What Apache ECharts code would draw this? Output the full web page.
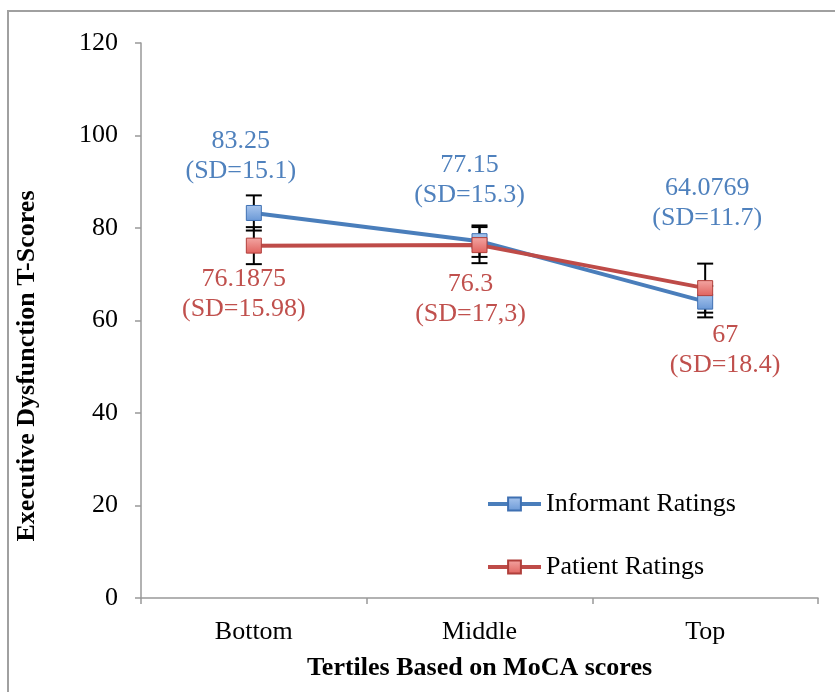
<!DOCTYPE html>
<html>
<head>
<meta charset="utf-8">
<script src="https://cdn.jsdelivr.net/npm/echarts@6/dist/echarts.min.js"></script>
<style>
  html, body { margin: 0; padding: 0; background: #fff; }
  #chart { width: 835px; height: 692px; }
</style>
</head>
<body>
<div id="chart"></div>
<script>
// data
const categories = ['Bottom', 'Middle', 'Top'];
const informantMeans = [83.25, 77.15, 64.0769];
const patientMeans = [76.1875, 76.3, 67];
const informantSD = ['15.1', '15.3', '11.7'];
const patientSD = ['15.98', '17,3', '18.4'];
// error bar half-lengths (estimated from the whiskers)
const informantErr = [3.8, 3.4, 3.4];
const patientErr = [4.0, 3.9, 5.3];

// label placement relative to each marker (styling only)
const informantLabelOffset = [[-13, -57], [-10, -61], [2, -98]];
const patientLabelOffset = [[-10, 49], [-9, 54], [20, 62]];

const FONT = '"Liberation Serif", "Times New Roman", serif';
const BLUE = '#4a7ebb';
const RED = '#be4b48';

const chart = echarts.init(document.getElementById('chart'));

const buildPoints = (means, sds, offsets, textColor) =>
    means.map((v, i) => ({
        value: v,
        label: {
            show: true,
            position: 'inside',
            offset: offsets[i],
            formatter: String(v) + '\n(SD=' + sds[i] + ')',
            color: textColor,
            fontFamily: FONT,
            fontSize: 26,
            lineHeight: 30
        }
    }));

const errorData = (means, errs) => means.map((m, i) => [i, m, errs[i]]);

// whiskers with caps
const renderError = (params, api) => {
    const x = api.value(0);
    const m = api.value(1);
    const e = api.value(2);
    const hi = api.coord([x, m + e]);
    const lo = api.coord([x, m - e]);
    const hw = 8;
    const style = { stroke: '#000', lineWidth: 2 };
    return {
        type: 'group',
        children: [
            { type: 'line', shape: { x1: hi[0], y1: hi[1], x2: lo[0], y2: lo[1] }, style },
            { type: 'line', shape: { x1: hi[0] - hw, y1: hi[1], x2: hi[0] + hw, y2: hi[1] }, style },
            { type: 'line', shape: { x1: lo[0] - hw, y1: lo[1], x2: lo[0] + hw, y2: lo[1] }, style }
        ]
    };
};

const grad = (a, b) => new echarts.graphic.LinearGradient(0, 0, 0, 1, [
    { offset: 0, color: a },
    { offset: 1, color: b }
]);

chart.setOption({
    animation: false,
    backgroundColor: '#fff',
    textStyle: { fontFamily: FONT },
    graphic: [
        {
            type: 'rect',
            shape: { x: 8, y: 11, width: 1000, height: 1000 },
            style: { fill: 'none', stroke: '#a0a0a0', lineWidth: 2 },
            silent: true
        },
        {
            type: 'text',
            x: 27,
            y: 366,
            rotation: Math.PI / 2,
            style: {
                text: 'Executive Dysfunction T-Scores',
                fontFamily: FONT,
                fontSize: 26,
                fontWeight: 'bold',
                fill: '#000',
                align: 'center',
                verticalAlign: 'middle'
            }
        }
    ],
    grid: { left: 141, right: 17, top: 43, bottom: 94 },
    legend: {
        orient: 'vertical',
        left: 481,
        top: 486,
        itemGap: 37,
        itemWidth: 53,
        itemHeight: 16,
        lineStyle: { width: 4 },
        data: ['Informant Ratings', 'Patient Ratings'],
        textStyle: { fontFamily: FONT, fontSize: 26, color: '#000' }
    },
    xAxis: {
        type: 'category',
        data: categories,
        boundaryGap: true,
        name: 'Tertiles Based on MoCA scores',
        nameLocation: 'middle',
        nameGap: 57,
        nameTextStyle: { fontFamily: FONT, fontSize: 26, fontWeight: 'bold', color: '#000' },
        axisLine: { lineStyle: { color: '#999', width: 1.5 } },
        axisTick: { show: true, length: 6, alignWithLabel: false, lineStyle: { color: '#999', width: 1.5 } },
        axisLabel: { margin: 21, fontFamily: FONT, fontSize: 26, color: '#000' },
        splitLine: { show: false }
    },
    yAxis: {
        type: 'value',
        min: 0,
        max: 120,
        interval: 20,
        axisLine: { show: true, lineStyle: { color: '#999', width: 1.5 } },
        axisTick: { show: true, length: 6, lineStyle: { color: '#999', width: 1.5 } },
        axisLabel: { margin: 23, fontFamily: FONT, fontSize: 26, color: '#000' },
        splitLine: { show: false }
    },
    series: [
        {
            name: 'informantErr',
            type: 'custom',
            z: 1,
            renderItem: renderError,
            encode: { x: 0, y: 1 },
            data: errorData(informantMeans, informantErr)
        },
        {
            name: 'patientErr',
            type: 'custom',
            z: 1,
            renderItem: renderError,
            encode: { x: 0, y: 1 },
            data: errorData(patientMeans, patientErr)
        },
        {
            name: 'Informant Ratings',
            type: 'line',
            z: 3,
            symbol: 'rect',
            symbolSize: 15,
            lineStyle: { color: BLUE, width: 4 },
            itemStyle: { color: grad('#a9c6ee', '#6a98d6'), borderColor: '#3f70b2', borderWidth: 1 },
            data: buildPoints(informantMeans, informantSD, informantLabelOffset, '#4f81bd')
        },
        {
            name: 'Patient Ratings',
            type: 'line',
            z: 4,
            symbol: 'rect',
            symbolSize: 15,
            lineStyle: { color: RED, width: 4 },
            itemStyle: { color: grad('#f3a6a3', '#e0625e'), borderColor: '#b03f3b', borderWidth: 1 },
            data: buildPoints(patientMeans, patientSD, patientLabelOffset, '#c0504d')
        }
    ]
});
</script>
</body>
</html>
